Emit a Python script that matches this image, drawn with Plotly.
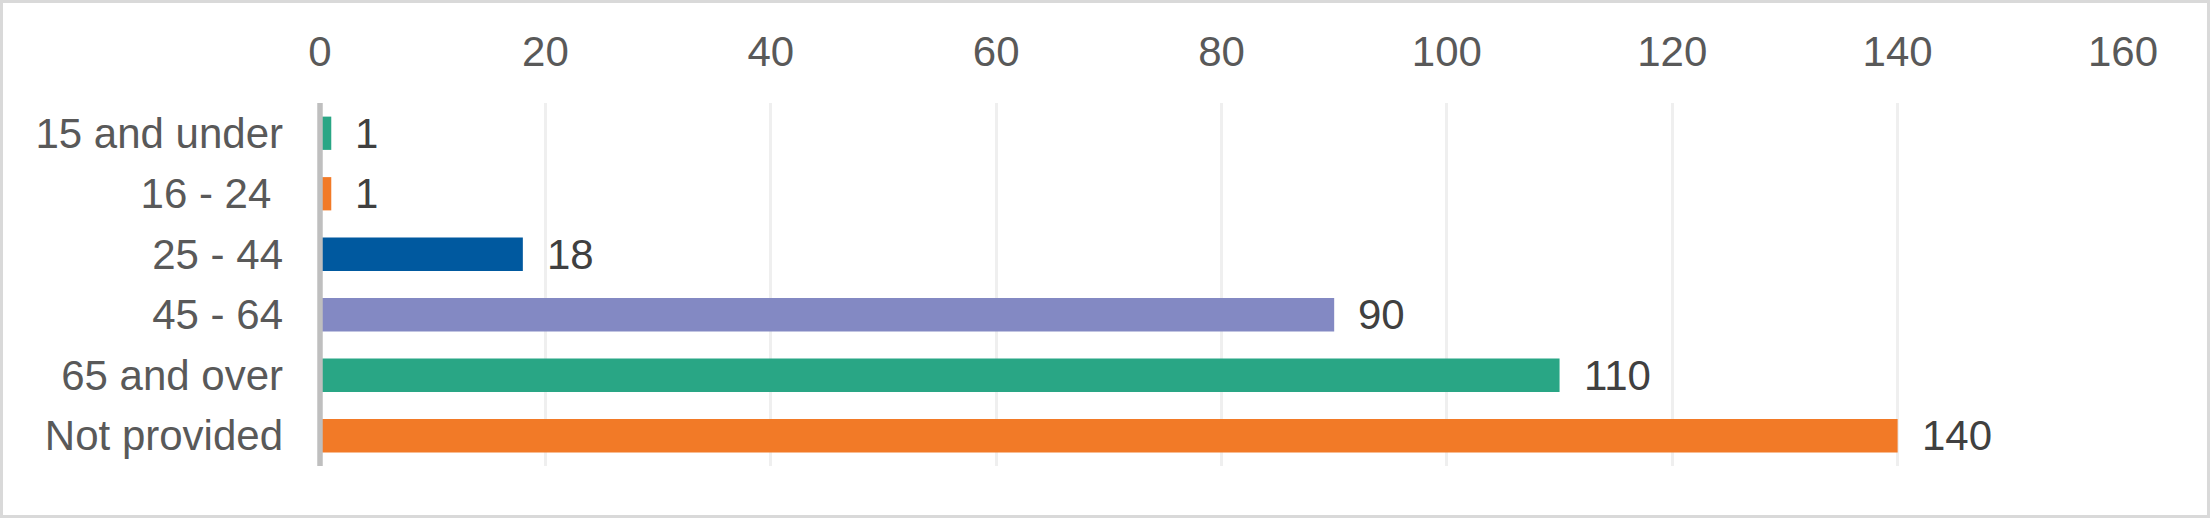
import plotly.graph_objects as go

# age bands, top to bottom as in the chart
age_groups = ["15 and under", "16 - 24 ", "25 - 44", "45 - 64", "65 and over", "Not provided"]
counts = [1, 1, 18, 90, 110, 140]
bar_colours = ["#29A685", "#F27A27", "#00599F", "#8389C3", "#29A685", "#F27A27"]
x_ticks = [0, 20, 40, 60, 80, 100, 120, 140, 160]

W, H = 2210, 518
L, R, T, B = 320, 87, 103, 52
plot_w = W - L - R
plot_h = H - T - B

fig = go.Figure()
fig.add_trace(go.Bar(
    x=counts,
    y=age_groups,
    orientation="h",
    marker=dict(color=bar_colours, line=dict(width=0)),
    hoverinfo="x+y",
))

# value labels to the right of each bar
for grp, n in zip(age_groups, counts):
    fig.add_annotation(
        x=n, y=grp, text=str(n), showarrow=False,
        xanchor="left", yanchor="middle", xshift=22,
        font=dict(family="Liberation Sans, Arial", size=42, color="#404040"),
    )

# grey axis line at zero
fig.add_shape(type="line", xref="paper", yref="paper", x0=0, x1=0, y0=0, y1=1,
              line=dict(color="#BFBFBF", width=5.5), layer="above")

# light border round the whole chart
fig.add_shape(type="rect", xref="paper", yref="paper",
              x0=-(L - 1.5) / plot_w, x1=1 + (R - 1.5) / plot_w,
              y0=-(B - 1.5) / plot_h, y1=1 + (T - 1.5) / plot_h,
              line=dict(color="#D9D9D9", width=3), layer="below")

fig.update_layout(
    width=W, height=H,
    margin=dict(l=L, r=R, t=T, b=B, pad=0),
    paper_bgcolor="white", plot_bgcolor="white",
    bargap=0.45,
    showlegend=False,
    font=dict(family="Liberation Sans, Arial", size=42, color="#595959"),
)
fig.update_xaxes(
    side="top", range=[0, 160], tickvals=x_ticks,
    showgrid=True, gridcolor="#EFEFEF", gridwidth=2.5,
    zeroline=False, showline=False, ticks="",
    ticklabelstandoff=28,
    tickfont=dict(size=42, color="#595959"),
)
fig.update_yaxes(
    autorange="reversed", showgrid=False, zeroline=False, showline=False,
    ticks="", ticklabelstandoff=36,
    tickfont=dict(size=42, color="#595959"),
)

# page body has a default 8px margin, drop it so the chart sits at 0,0
fig.write_html("out.html", config={"displayModeBar": False},
               post_script="document.body.style.margin='0';")
